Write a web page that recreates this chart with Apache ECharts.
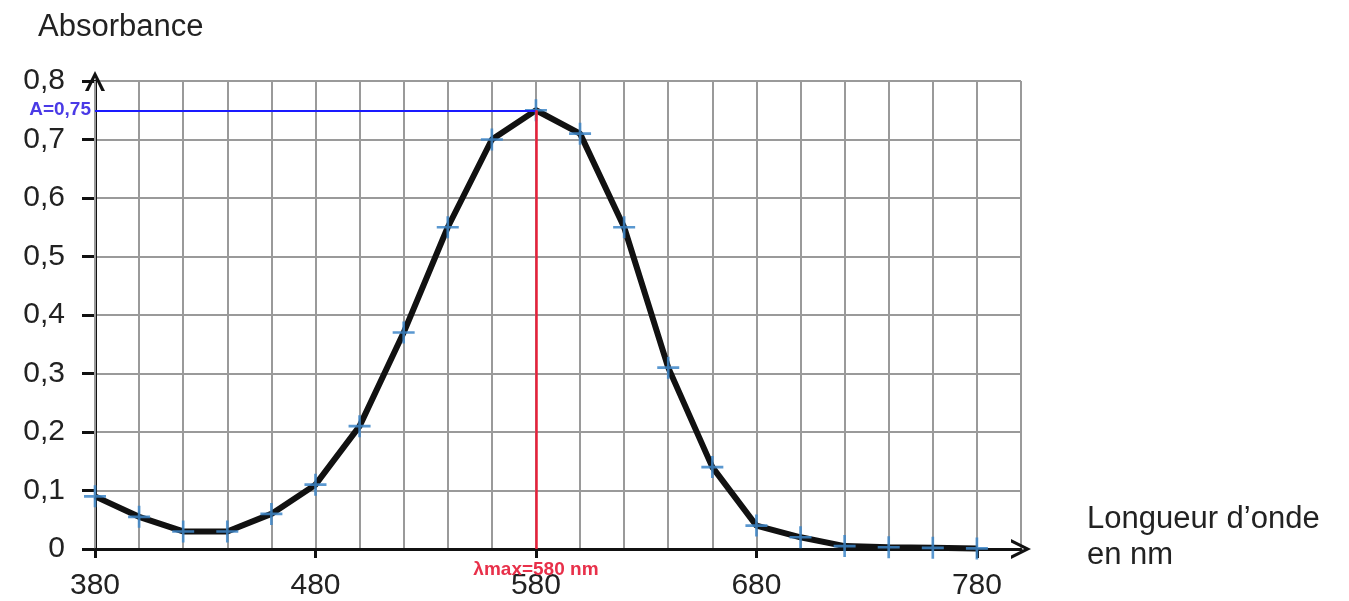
<!DOCTYPE html>
<html>
<head>
<meta charset="utf-8">
<script src="https://cdn.jsdelivr.net/npm/echarts@6/dist/echarts.min.js"></script>
<style>
  html, body { margin: 0; padding: 0; background: #fff; }
  #chart { width: 1349px; height: 601px; }
</style>
</head>
<body>
<div id="chart"></div>
<script>
// Wavelengths (nm) and measured absorbance
const wavelengths = [380, 400, 420, 440, 460, 480, 500, 520, 540, 560, 580, 600, 620, 640, 660, 680, 700, 720, 740, 760, 780];
const absorbance = [0.09, 0.055, 0.03, 0.03, 0.06, 0.11, 0.21, 0.37, 0.55, 0.70, 0.75, 0.71, 0.55, 0.31, 0.14, 0.04, 0.02, 0.005, 0.003, 0.002, 0.001];

// Labelled ticks on the wavelength axis
const xTickLabels = [380, 480, 580, 680, 780];

// Peak read-off
const lambdaMax = 580;
const aMax = 0.75;

const points = wavelengths.map((w, i) => [w, absorbance[i]]);
const comma = v => String(Math.round(v * 10) / 10).replace('.', ',');

// open chevron used as arrow heads on the axes
const chevron = 'path://M0,10 L5,0 L10,10 L8.2,10 L5,3.4 L1.8,10 Z';
const cross = 'path://M4.4,0 H5.6 V4.4 H10 V5.6 H5.6 V10 H4.4 V5.6 H0 V4.4 H4.4 Z';
const font = 'Liberation Sans, Arial, sans-serif';

const option = {
  animation: false,
  textStyle: { fontFamily: font },
  title: {
    text: 'Absorbance',
    left: 33,
    top: 7,
    textStyle: { fontSize: 31, fontWeight: 'normal', color: '#222', fontFamily: font }
  },
  graphic: [{
    type: 'text',
    left: 1087,
    top: 501,
    style: {
      text: 'Longueur d\u2019onde\nen nm',
      font: '31px Liberation Sans, Arial, sans-serif',
      fill: '#222',
      lineHeight: 36
    }
  }],
  grid: { left: 95, right: 328, top: 81, bottom: 52 },
  xAxis: [
    {
      // grid lines every 20 nm
      type: 'value',
      min: 380,
      max: 800,
      interval: 20,
      axisLine: {
        show: true,
        lineStyle: { color: '#111', width: 3 },
        symbol: ['none', chevron],
        symbolSize: [26, 20]
      },
      axisTick: { show: false },
      axisLabel: { show: false },
      splitLine: { show: true, lineStyle: { color: '#9a9a9a', width: 2 } },
      z: 1
    },
    {
      // ticks and labels every 100 nm
      type: 'value',
      position: 'bottom',
      min: 380,
      max: 800,
      axisLine: { show: false },
      axisTick: {
        show: true,
        customValues: xTickLabels,
        length: 9,
        lineStyle: { color: '#111', width: 3 }
      },
      axisLabel: {
        customValues: xTickLabels,
        margin: 22,
        fontSize: 30,
        color: '#222'
      },
      splitLine: { show: false }
    }
  ],
  yAxis: {
    type: 'value',
    min: 0,
    max: 0.8,
    interval: 0.1,
    axisLine: {
      show: true,
      lineStyle: { color: '#111', width: 3 },
      symbol: ['none', chevron],
      symbolSize: [26, 20]
    },
    axisTick: {
      show: true,
      length: 13,
      lineStyle: { color: '#111', width: 3 }
    },
    axisLabel: {
      margin: 30,
      fontSize: 30,
      color: '#222',
      formatter: comma
    },
    splitLine: { show: true, lineStyle: { color: '#9a9a9a', width: 2 } }
  },
  series: [
    {
      type: 'line',
      data: points,
      showSymbol: false,
      z: 3,
      lineStyle: { color: '#111', width: 6 },
      markLine: {
        silent: true,
        symbol: 'none',
        animation: false,
        data: [
          [
            { coord: [380, aMax], lineStyle: { color: '#1a1aff', width: 2, type: 'solid' },
              label: { show: true, position: 'start', formatter: 'A=' + String(aMax).replace('.', ','),
                color: '#4a3ae6', fontWeight: 'bold', fontSize: 19, distance: 4 } },
            { coord: [lambdaMax, aMax] }
          ],
          [
            { coord: [lambdaMax, 0], lineStyle: { color: '#e8203a', width: 2.5, type: 'solid' },
              label: { show: true, position: 'start', formatter: '\u03bbmax=' + lambdaMax + ' nm',
                color: '#e8304a', fontWeight: 'bold', fontSize: 19, distance: 11 } },
            { coord: [lambdaMax, aMax] }
          ]
        ]
      }
    },
    {
      type: 'scatter',
      data: points,
      symbol: cross,
      symbolSize: 22,
      z: 4,
      itemStyle: { color: '#3d86c8', opacity: 0.85 }
    }
  ]
};

const chart = echarts.init(document.getElementById('chart'));
chart.setOption(option);
</script>
</body>
</html>
